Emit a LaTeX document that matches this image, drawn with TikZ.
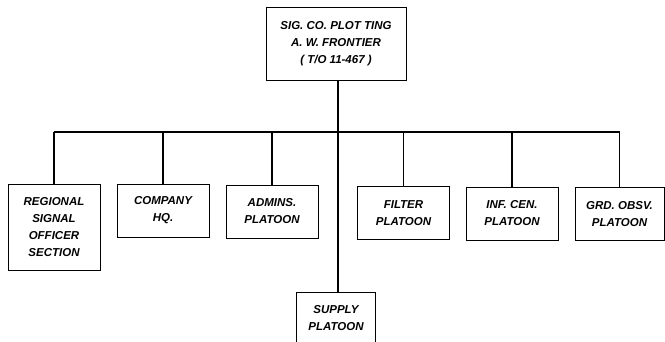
\documentclass[tikz,border=0pt]{standalone}
\usepackage{fontspec}
\setsansfont{Liberation Sans}
\usetikzlibrary{positioning}
\tikzset{
  unit/.style={
    rectangle, draw=black, line width=1pt, fill=white,
    minimum width=92pt, minimum height=53pt, inner sep=2pt,
    align=center, font=\fontsize{11.5}{17}\selectfont\sffamily\bfseries\itshape
  },
  tall/.style={unit, minimum height=86pt},
  head/.style={unit, minimum width=140pt, minimum height=73pt},
  link/.style={line width=1.1pt, draw=black}
}

\begin{document}
\begin{tikzpicture}[x=1pt, y=1pt]
  \useasboundingbox (0,0) rectangle (665,-341);
  \clip (0,0) rectangle (665,-341);
  \fill[white] (0,0) rectangle (665,-341);

  \node[head] (sigco) at (336,-43.5) {%
    SIG. CO. PLOT TING\\A. W. FRONTIER\\( T/O 11-467 )};

  % Platoons along the bus
  \node[tall] (rso)    at (54,-227)    {REGIONAL\\SIGNAL\\OFFICER\\SECTION};
  \node[unit] (coyhq)  at (163,-210.5) {COMPANY\\HQ.};
  \node[unit] (admins) at (272,-211.5) {ADMINS.\\PLATOON};
  \node[unit] (filter) at (403.5,-213) {FILTER\\PLATOON};
  \node[unit] (infcen) at (512,-213.5) {INF. CEN.\\PLATOON};
  \node[unit, minimum width=89pt] (grdobs) at (619.5,-214) {GRD. OBSV.\\PLATOON};
  \node[unit, minimum width=79pt] (supply) at (336,-318.5) {SUPPLY\\PLATOON};

  \coordinate (bus) at (338,-132);

  % Trunk and bus
  \draw[link] (sigco.south -| bus) -- (supply.north -| bus);
  \draw[link] (rso.north |- bus) -- (grdobs.north |- bus);
  \draw[link] (rso.north)    -- (rso.north |- bus);
  \draw[link] (coyhq.north)  -- (coyhq.north |- bus);
  \draw[link] (admins.north) -- (admins.north |- bus);
  \draw[link] (filter.north) -- (filter.north |- bus);
  \draw[link] (infcen.north) -- (infcen.north |- bus);
  \draw[link] (grdobs.north) -- (grdobs.north |- bus);

\end{tikzpicture}
\end{document}
